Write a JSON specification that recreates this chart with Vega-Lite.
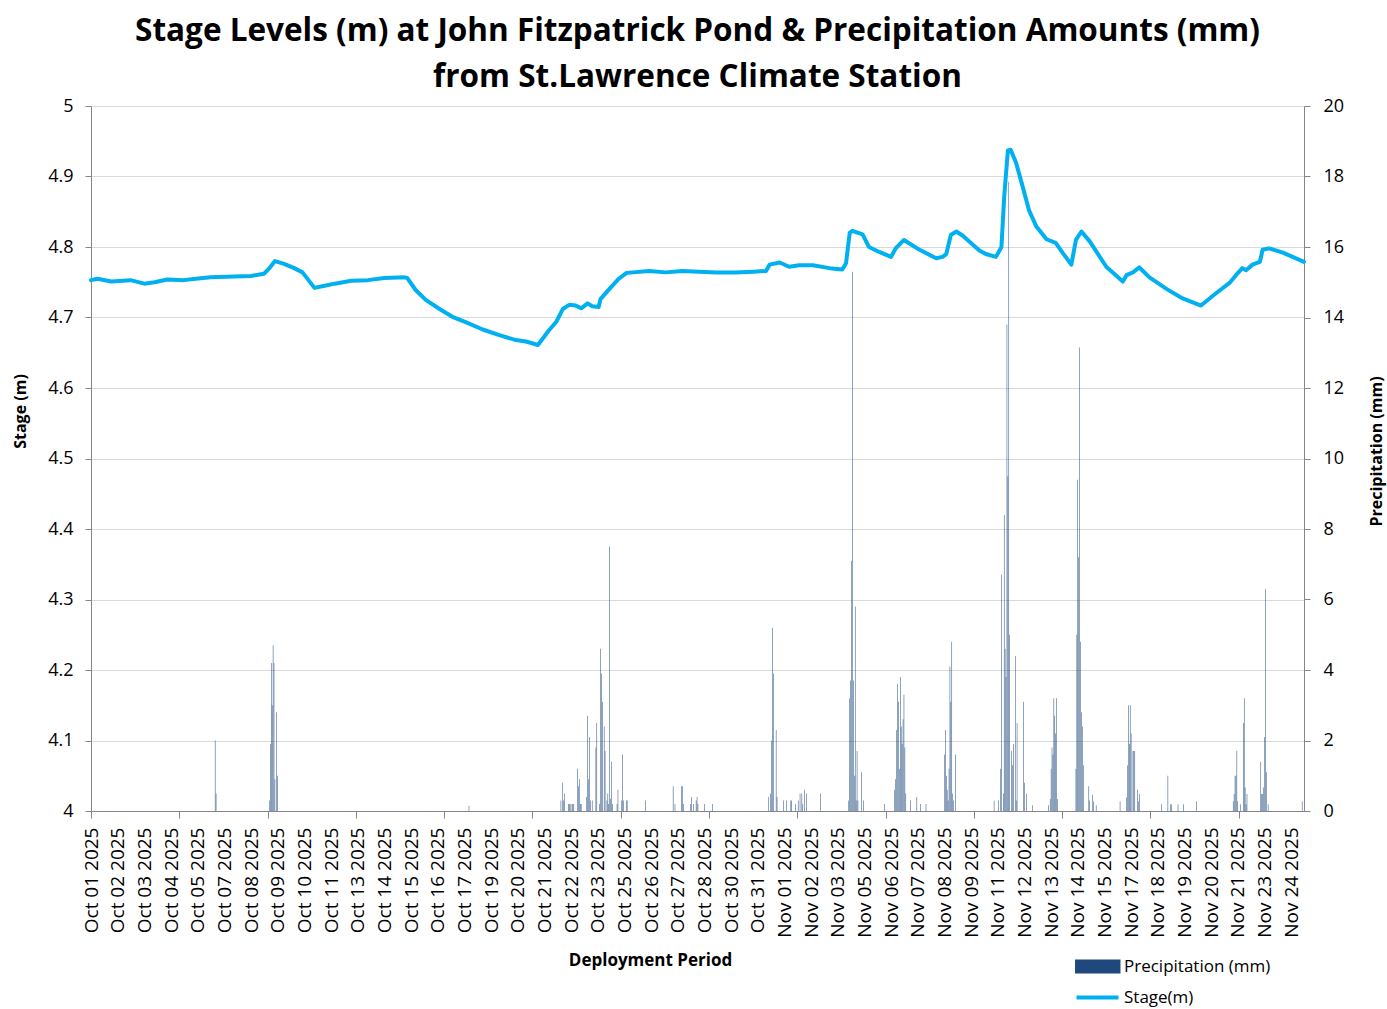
{
  "$schema": "https://vega.github.io/schema/vega-lite/v6.json",
  "width": 1213,
  "height": 705,
  "autosize": {"type": "none"},
  "padding": {"left": 91, "top": 106, "right": 83, "bottom": 198},
  "background": "white",
  "config": {"font": "Open Sans", "view": {"stroke": null}},
  "title": {
    "text": ["Stage Levels (m) at John Fitzpatrick Pond & Precipitation Amounts (mm)", "from St.Lawrence Climate Station"],
    "font": "Open Sans", "fontSize": 31.5, "fontWeight": "bold", "color": "#000000",
    "anchor": "middle", "frame": "group", "offset": 4, "lineHeight": 46
  },
  "datasets": {
    "precip": [
      {"t":"2025-10-06T15:00Z","p":2.0},{"t":"2025-10-06T16:00Z","p":0.5},
      {"t":"2025-10-09T02:00Z","p":0.3},{"t":"2025-10-09T03:00Z","p":1.9},{"t":"2025-10-09T04:00Z","p":4.2},{"t":"2025-10-09T05:00Z","p":3.0},{"t":"2025-10-09T06:00Z","p":4.7},{"t":"2025-10-09T07:00Z","p":4.2},{"t":"2025-10-09T08:00Z","p":0.9},{"t":"2025-10-09T10:00Z","p":2.8},{"t":"2025-10-09T11:00Z","p":1.0},
      {"t":"2025-10-18T03:00Z","p":0.15},
      {"t":"2025-10-22T07:00Z","p":0.3},{"t":"2025-10-22T09:00Z","p":0.8},{"t":"2025-10-22T10:00Z","p":0.3},{"t":"2025-10-22T11:00Z","p":0.5},{"t":"2025-10-22T15:00Z","p":0.2},{"t":"2025-10-22T16:00Z","p":0.2},{"t":"2025-10-22T17:00Z","p":0.2},{"t":"2025-10-22T19:00Z","p":0.2},{"t":"2025-10-22T20:00Z","p":0.2},{"t":"2025-10-22T21:00Z","p":0.2},
      {"t":"2025-10-23T01:00Z","p":1.2},{"t":"2025-10-23T02:00Z","p":0.7},{"t":"2025-10-23T03:00Z","p":0.9},{"t":"2025-10-23T04:00Z","p":0.2},{"t":"2025-10-23T05:00Z","p":0.2},{"t":"2025-10-23T11:00Z","p":0.4},{"t":"2025-10-23T12:00Z","p":2.7},{"t":"2025-10-23T13:00Z","p":0.9},{"t":"2025-10-23T14:00Z","p":2.1},{"t":"2025-10-23T15:00Z","p":0.3},{"t":"2025-10-23T17:00Z","p":0.3},{"t":"2025-10-23T21:00Z","p":1.8},{"t":"2025-10-23T22:00Z","p":2.5},
      {"t":"2025-10-24T01:00Z","p":0.2},{"t":"2025-10-24T02:00Z","p":4.6},{"t":"2025-10-24T03:00Z","p":3.9},{"t":"2025-10-24T04:00Z","p":3.1},{"t":"2025-10-24T06:00Z","p":2.4},{"t":"2025-10-24T07:00Z","p":1.7},{"t":"2025-10-24T09:00Z","p":0.3},{"t":"2025-10-24T10:00Z","p":0.5},{"t":"2025-10-24T11:00Z","p":0.2},{"t":"2025-10-24T12:00Z","p":7.5},{"t":"2025-10-24T13:00Z","p":0.35},{"t":"2025-10-24T14:00Z","p":1.4},{"t":"2025-10-24T15:00Z","p":0.2},{"t":"2025-10-24T20:00Z","p":0.2},{"t":"2025-10-24T21:00Z","p":0.6},
      {"t":"2025-10-25T01:00Z","p":0.3},{"t":"2025-10-25T02:00Z","p":1.6},{"t":"2025-10-25T03:00Z","p":0.3},{"t":"2025-10-25T06:00Z","p":0.3},{"t":"2025-10-25T07:00Z","p":0.3},
      {"t":"2025-10-26T03:00Z","p":0.3},
      {"t":"2025-10-27T09:00Z","p":0.7},{"t":"2025-10-27T11:00Z","p":0.2},{"t":"2025-10-27T18:00Z","p":0.7},{"t":"2025-10-27T19:00Z","p":0.7},{"t":"2025-10-27T20:00Z","p":0.2},
      {"t":"2025-10-28T04:00Z","p":0.2},{"t":"2025-10-28T05:00Z","p":0.4},{"t":"2025-10-28T07:00Z","p":0.2},{"t":"2025-10-28T10:00Z","p":0.3},{"t":"2025-10-28T11:00Z","p":0.4},{"t":"2025-10-28T12:00Z","p":0.2},{"t":"2025-10-28T19:00Z","p":0.2},
      {"t":"2025-10-29T04:00Z","p":0.2},
      {"t":"2025-10-31T17:00Z","p":0.4},{"t":"2025-10-31T19:00Z","p":0.5},{"t":"2025-10-31T20:00Z","p":2.0},{"t":"2025-10-31T21:00Z","p":5.2},{"t":"2025-10-31T22:00Z","p":3.9},
      {"t":"2025-11-01T01:00Z","p":2.3},{"t":"2025-11-01T02:00Z","p":0.4},{"t":"2025-11-01T09:00Z","p":0.3},{"t":"2025-11-01T12:00Z","p":0.3},{"t":"2025-11-01T17:00Z","p":0.3},{"t":"2025-11-01T18:00Z","p":0.3},{"t":"2025-11-01T22:00Z","p":0.2},
      {"t":"2025-11-02T01:00Z","p":0.3},{"t":"2025-11-02T03:00Z","p":0.5},{"t":"2025-11-02T05:00Z","p":0.5},{"t":"2025-11-02T06:00Z","p":0.2},{"t":"2025-11-02T08:00Z","p":0.6},{"t":"2025-11-02T10:00Z","p":0.5},
      {"t":"2025-11-03T01:00Z","p":0.5},
      {"t":"2025-11-04T08:00Z","p":0.3},{"t":"2025-11-04T09:00Z","p":3.2},{"t":"2025-11-04T10:00Z","p":3.7},{"t":"2025-11-04T11:00Z","p":7.1},{"t":"2025-11-04T12:00Z","p":15.3},{"t":"2025-11-04T13:00Z","p":3.7},{"t":"2025-11-04T14:00Z","p":1.0},{"t":"2025-11-04T15:00Z","p":5.8},{"t":"2025-11-04T16:00Z","p":0.3},{"t":"2025-11-04T17:00Z","p":1.7},{"t":"2025-11-04T18:00Z","p":0.3},{"t":"2025-11-04T22:00Z","p":1.1},
      {"t":"2025-11-05T00:00Z","p":0.3},{"t":"2025-11-05T23:00Z","p":0.2},
      {"t":"2025-11-06T10:00Z","p":0.6},{"t":"2025-11-06T11:00Z","p":0.9},{"t":"2025-11-06T12:00Z","p":2.3},{"t":"2025-11-06T13:00Z","p":3.6},{"t":"2025-11-06T14:00Z","p":3.1},{"t":"2025-11-06T15:00Z","p":1.2},{"t":"2025-11-06T16:00Z","p":3.8},{"t":"2025-11-06T17:00Z","p":2.4},{"t":"2025-11-06T18:00Z","p":1.9},{"t":"2025-11-06T19:00Z","p":2.6},{"t":"2025-11-06T20:00Z","p":3.3},{"t":"2025-11-06T21:00Z","p":1.8},{"t":"2025-11-06T22:00Z","p":0.5},
      {"t":"2025-11-07T03:00Z","p":0.3},{"t":"2025-11-07T10:00Z","p":0.4},{"t":"2025-11-07T14:00Z","p":0.2},{"t":"2025-11-07T20:00Z","p":0.2},
      {"t":"2025-11-08T16:00Z","p":1.6},{"t":"2025-11-08T17:00Z","p":2.3},{"t":"2025-11-08T18:00Z","p":1.0},{"t":"2025-11-08T19:00Z","p":0.6},{"t":"2025-11-08T20:00Z","p":0.3},{"t":"2025-11-08T21:00Z","p":1.2},{"t":"2025-11-08T22:00Z","p":4.1},{"t":"2025-11-08T23:00Z","p":3.1},
      {"t":"2025-11-09T00:00Z","p":4.8},{"t":"2025-11-09T01:00Z","p":0.5},{"t":"2025-11-09T02:00Z","p":0.3},{"t":"2025-11-09T04:00Z","p":1.6},
      {"t":"2025-11-10T22:00Z","p":0.3},
      {"t":"2025-11-11T03:00Z","p":0.3},{"t":"2025-11-11T05:00Z","p":1.2},{"t":"2025-11-11T06:00Z","p":6.7},{"t":"2025-11-11T08:00Z","p":0.5},{"t":"2025-11-11T09:00Z","p":8.4},{"t":"2025-11-11T10:00Z","p":4.6},{"t":"2025-11-11T11:00Z","p":3.8},{"t":"2025-11-11T12:00Z","p":13.8},{"t":"2025-11-11T13:00Z","p":9.5},{"t":"2025-11-11T14:00Z","p":17.85},{"t":"2025-11-11T15:00Z","p":5.0},{"t":"2025-11-11T17:00Z","p":1.7},{"t":"2025-11-11T18:00Z","p":1.3},{"t":"2025-11-11T19:00Z","p":1.9},{"t":"2025-11-11T21:00Z","p":4.4},{"t":"2025-11-11T22:00Z","p":0.3},{"t":"2025-11-11T23:00Z","p":2.5},
      {"t":"2025-11-12T06:00Z","p":3.1},{"t":"2025-11-12T07:00Z","p":0.8},{"t":"2025-11-12T09:00Z","p":0.5},{"t":"2025-11-12T16:00Z","p":0.16},
      {"t":"2025-11-13T09:00Z","p":0.16},{"t":"2025-11-13T11:00Z","p":0.34},{"t":"2025-11-13T12:00Z","p":1.2},{"t":"2025-11-13T13:00Z","p":1.8},{"t":"2025-11-13T14:00Z","p":1.6},{"t":"2025-11-13T15:00Z","p":3.2},{"t":"2025-11-13T16:00Z","p":2.7},{"t":"2025-11-13T17:00Z","p":2.2},{"t":"2025-11-13T18:00Z","p":3.2},{"t":"2025-11-13T19:00Z","p":0.34},
      {"t":"2025-11-14T15:00Z","p":1.2},{"t":"2025-11-14T16:00Z","p":5.0},{"t":"2025-11-14T17:00Z","p":9.4},{"t":"2025-11-14T18:00Z","p":7.2},{"t":"2025-11-14T19:00Z","p":13.15},{"t":"2025-11-14T20:00Z","p":4.8},{"t":"2025-11-14T21:00Z","p":2.8},{"t":"2025-11-14T22:00Z","p":2.4},{"t":"2025-11-14T23:00Z","p":1.3},
      {"t":"2025-11-15T05:00Z","p":0.7},{"t":"2025-11-15T06:00Z","p":0.3},{"t":"2025-11-15T09:00Z","p":0.46},{"t":"2025-11-15T10:00Z","p":0.28},{"t":"2025-11-15T13:00Z","p":0.16},
      {"t":"2025-11-16T15:00Z","p":0.28},{"t":"2025-11-16T22:00Z","p":0.38},{"t":"2025-11-16T23:00Z","p":1.3},
      {"t":"2025-11-17T00:00Z","p":3.0},{"t":"2025-11-17T01:00Z","p":1.9},{"t":"2025-11-17T02:00Z","p":3.0},{"t":"2025-11-17T03:00Z","p":2.2},{"t":"2025-11-17T05:00Z","p":1.7},{"t":"2025-11-17T06:00Z","p":1.7},{"t":"2025-11-17T07:00Z","p":1.7},{"t":"2025-11-17T10:00Z","p":0.6},{"t":"2025-11-17T11:00Z","p":0.28},{"t":"2025-11-17T12:00Z","p":0.48},
      {"t":"2025-11-18T12:00Z","p":0.19},{"t":"2025-11-18T19:00Z","p":1.0},{"t":"2025-11-18T22:00Z","p":0.19},{"t":"2025-11-18T23:00Z","p":0.19},
      {"t":"2025-11-19T06:00Z","p":0.19},{"t":"2025-11-19T12:00Z","p":0.19},
      {"t":"2025-11-20T02:00Z","p":0.28},
      {"t":"2025-11-21T18:00Z","p":0.28},{"t":"2025-11-21T19:00Z","p":0.48},{"t":"2025-11-21T20:00Z","p":1.0},{"t":"2025-11-21T21:00Z","p":1.0},{"t":"2025-11-21T22:00Z","p":1.7},{"t":"2025-11-21T23:00Z","p":0.28},
      {"t":"2025-11-22T02:00Z","p":0.19},{"t":"2025-11-22T05:00Z","p":2.5},{"t":"2025-11-22T06:00Z","p":3.2},{"t":"2025-11-22T07:00Z","p":0.67},{"t":"2025-11-22T08:00Z","p":0.19},{"t":"2025-11-22T09:00Z","p":0.48},
      {"t":"2025-11-23T00:00Z","p":1.4},{"t":"2025-11-23T01:00Z","p":0.48},{"t":"2025-11-23T02:00Z","p":0.48},{"t":"2025-11-23T03:00Z","p":0.67},{"t":"2025-11-23T04:00Z","p":2.1},{"t":"2025-11-23T05:00Z","p":6.3},{"t":"2025-11-23T06:00Z","p":1.1},{"t":"2025-11-23T08:00Z","p":0.19},
      {"t":"2025-11-24T21:00Z","p":0.28}
    ],
    "stage": [
      {"t":"2025-10-01T00:00Z","s":4.753},{"t":"2025-10-01T07:00Z","s":4.755},{"t":"2025-10-01T22:00Z","s":4.751},{"t":"2025-10-02T19:00Z","s":4.753},{"t":"2025-10-03T10:00Z","s":4.748},{"t":"2025-10-03T21:00Z","s":4.750},{"t":"2025-10-04T11:00Z","s":4.754},{"t":"2025-10-05T05:00Z","s":4.753},{"t":"2025-10-05T18:00Z","s":4.755},{"t":"2025-10-06T10:00Z","s":4.757},{"t":"2025-10-07T12:00Z","s":4.758},{"t":"2025-10-08T06:00Z","s":4.759},{"t":"2025-10-08T20:00Z","s":4.762},
      {"t":"2025-10-09T02:00Z","s":4.770},{"t":"2025-10-09T08:00Z","s":4.780},{"t":"2025-10-09T18:00Z","s":4.776},{"t":"2025-10-10T05:00Z","s":4.770},{"t":"2025-10-10T14:00Z","s":4.764},{"t":"2025-10-11T03:00Z","s":4.742},{"t":"2025-10-11T14:00Z","s":4.745},{"t":"2025-10-12T01:00Z","s":4.748},{"t":"2025-10-12T19:00Z","s":4.752},{"t":"2025-10-13T13:00Z","s":4.753},{"t":"2025-10-14T07:00Z","s":4.756},{"t":"2025-10-15T05:00Z","s":4.757},{"t":"2025-10-15T08:00Z","s":4.756},
      {"t":"2025-10-15T17:00Z","s":4.739},{"t":"2025-10-16T04:00Z","s":4.725},{"t":"2025-10-16T19:00Z","s":4.712},{"t":"2025-10-17T09:00Z","s":4.701},{"t":"2025-10-18T00:00Z","s":4.693},{"t":"2025-10-18T18:00Z","s":4.683},{"t":"2025-10-19T12:00Z","s":4.675},{"t":"2025-10-20T06:00Z","s":4.668},{"t":"2025-10-20T17:00Z","s":4.666},{"t":"2025-10-21T06:00Z","s":4.661},
      {"t":"2025-10-21T18:00Z","s":4.682},{"t":"2025-10-22T02:00Z","s":4.694},{"t":"2025-10-22T09:00Z","s":4.712},{"t":"2025-10-22T16:00Z","s":4.718},{"t":"2025-10-22T23:00Z","s":4.717},{"t":"2025-10-23T05:00Z","s":4.713},{"t":"2025-10-23T12:00Z","s":4.720},{"t":"2025-10-23T17:00Z","s":4.716},{"t":"2025-10-24T00:00Z","s":4.715},{"t":"2025-10-24T02:00Z","s":4.726},{"t":"2025-10-24T12:00Z","s":4.741},{"t":"2025-10-24T22:00Z","s":4.755},
      {"t":"2025-10-25T06:00Z","s":4.763},{"t":"2025-10-25T13:00Z","s":4.764},{"t":"2025-10-26T07:00Z","s":4.766},{"t":"2025-10-27T01:00Z","s":4.764},{"t":"2025-10-27T19:00Z","s":4.766},{"t":"2025-10-28T13:00Z","s":4.765},{"t":"2025-10-29T08:00Z","s":4.764},{"t":"2025-10-30T05:00Z","s":4.764},{"t":"2025-10-31T00:00Z","s":4.765},{"t":"2025-10-31T14:00Z","s":4.766},{"t":"2025-10-31T18:00Z","s":4.775},
      {"t":"2025-11-01T05:00Z","s":4.778},{"t":"2025-11-01T15:00Z","s":4.772},{"t":"2025-11-02T02:00Z","s":4.774},{"t":"2025-11-02T17:00Z","s":4.774},{"t":"2025-11-03T11:00Z","s":4.770},{"t":"2025-11-04T01:00Z","s":4.768},{"t":"2025-11-04T05:00Z","s":4.777},{"t":"2025-11-04T09:00Z","s":4.820},{"t":"2025-11-04T12:00Z","s":4.823},{"t":"2025-11-04T23:00Z","s":4.818},
      {"t":"2025-11-05T06:00Z","s":4.800},{"t":"2025-11-05T17:00Z","s":4.793},{"t":"2025-11-06T06:00Z","s":4.786},{"t":"2025-11-06T11:00Z","s":4.798},{"t":"2025-11-06T20:00Z","s":4.810},{"t":"2025-11-07T13:00Z","s":4.796},{"t":"2025-11-08T07:00Z","s":4.784},{"t":"2025-11-08T14:00Z","s":4.786},{"t":"2025-11-08T18:00Z","s":4.790},{"t":"2025-11-08T23:00Z","s":4.817},
      {"t":"2025-11-09T05:00Z","s":4.822},{"t":"2025-11-09T12:00Z","s":4.816},{"t":"2025-11-10T06:00Z","s":4.795},{"t":"2025-11-10T13:00Z","s":4.790},{"t":"2025-11-11T00:00Z","s":4.786},{"t":"2025-11-11T06:00Z","s":4.800},{"t":"2025-11-11T09:00Z","s":4.871},{"t":"2025-11-11T13:00Z","s":4.937},{"t":"2025-11-11T16:00Z","s":4.938},{"t":"2025-11-11T22:00Z","s":4.919},
      {"t":"2025-11-12T05:00Z","s":4.886},{"t":"2025-11-12T12:00Z","s":4.852},{"t":"2025-11-12T20:00Z","s":4.829},{"t":"2025-11-13T07:00Z","s":4.811},{"t":"2025-11-13T17:00Z","s":4.806},{"t":"2025-11-14T01:00Z","s":4.791},{"t":"2025-11-14T10:00Z","s":4.775},{"t":"2025-11-14T15:00Z","s":4.810},{"t":"2025-11-14T21:00Z","s":4.822},{"t":"2025-11-15T06:00Z","s":4.808},
      {"t":"2025-11-16T00:00Z","s":4.772},{"t":"2025-11-16T18:00Z","s":4.751},{"t":"2025-11-16T22:00Z","s":4.760},{"t":"2025-11-17T05:00Z","s":4.764},{"t":"2025-11-17T12:00Z","s":4.771},{"t":"2025-11-17T23:00Z","s":4.757},{"t":"2025-11-18T17:00Z","s":4.741},{"t":"2025-11-19T11:00Z","s":4.727},{"t":"2025-11-20T07:00Z","s":4.717},{"t":"2025-11-20T23:00Z","s":4.734},
      {"t":"2025-11-21T14:00Z","s":4.749},{"t":"2025-11-21T23:00Z","s":4.763},{"t":"2025-11-22T04:00Z","s":4.770},{"t":"2025-11-22T08:00Z","s":4.767},{"t":"2025-11-22T15:00Z","s":4.775},{"t":"2025-11-22T23:00Z","s":4.779},{"t":"2025-11-23T02:00Z","s":4.796},{"t":"2025-11-23T09:00Z","s":4.798},{"t":"2025-11-24T00:00Z","s":4.792},{"t":"2025-11-24T23:00Z","s":4.779}
    ]
  },
  "layer": [
    {
      "data": {"name": "precip"},
      "mark": {"type": "bar", "width": 0.5},
      "encoding": {
        "x": {
          "field": "t", "type": "temporal",
          "scale": {"type": "utc", "domain": [1759276800000, 1764025200000], "padding": 0},
          "axis": {
            "orient": "bottom", "title": null, "labels": false, "grid": false,
            "values": [1759276800000,1759622400000,1759968000000,1760313600000,1760659200000,1761004800000,1761350400000,1761696000000,1762041600000,1762387200000,1762732800000,1763078400000,1763424000000,1763769600000],
            "ticks": true, "tickSize": 7, "tickColor": "#868686", "domain": true, "domainColor": "#868686"
          }
        },
        "y": {
          "field": "p", "type": "quantitative",
          "scale": {"domain": [0, 20], "nice": false},
          "axis": {
            "orient": "right", "values": [0,2,4,6,8,10,12,14,16,18,20], "grid": false,
            "labelFontSize": 18, "labelColor": "#000000", "labelPadding": 13,
            "tickSize": 6, "tickColor": "#868686", "domainColor": "#868686",
            "title": "Precipitation (mm)", "titleFontSize": 16, "titleFontWeight": "bold", "titleColor": "#000000",
            "titleAngle": -90, "titleX": 72, "titleY": 345, "titleAlign": "center", "titleBaseline": "middle"
          }
        },
        "color": {
          "datum": "Precipitation (mm)",
          "scale": {"domain": ["Precipitation (mm)", "Stage(m)"], "range": ["#1F497D", "#00B0F0"]},
          "legend": {
            "orient": "none", "legendX": 994, "legendY": 848, "title": null, "direction": "vertical",
            "labelFontSize": 17, "labelColor": "#000000", "labelOffset": 14,
            "symbolSize": 441, "symbolStrokeWidth": 4, "rowPadding": 5,
            "encode": {
              "symbols": {
                "update": {
                  "shape": {"signal": "datum.value === 'Stage(m)' ? 'M-2,0H2' : 'M-1.95,-0.48H2V0.48H-1.95Z'"},
                  "fill": {"signal": "datum.value === 'Stage(m)' ? 'transparent' : '#1F497D'"},
                  "stroke": {"signal": "datum.value === 'Stage(m)' ? '#00B0F0' : 'transparent'"},
                  "strokeWidth": {"value": 4},
                  "opacity": {"value": 1}
                }
              }
            }
          }
        }
      }
    },
    {
      "data": {"name": "stage"},
      "mark": {"type": "line", "strokeWidth": 4, "strokeJoin": "round", "strokeCap": "round"},
      "encoding": {
        "x": {
          "field": "t", "type": "temporal",
          "axis": {
            "orient": "bottom", "grid": false, "ticks": false, "tickSize": 0, "domain": false,
            "values": [1759276800000,1759381200000,1759485600000,1759590000000,1759694400000,1759798800000,1759903200000,1760007600000,1760112000000,1760216400000,1760320800000,1760425200000,1760529600000,1760634000000,1760738400000,1760842800000,1760947200000,1761051600000,1761156000000,1761260400000,1761364800000,1761469200000,1761573600000,1761678000000,1761782400000,1761886800000,1761991200000,1762095600000,1762200000000,1762304400000,1762408800000,1762513200000,1762617600000,1762722000000,1762826400000,1762930800000,1763035200000,1763139600000,1763244000000,1763348400000,1763452800000,1763557200000,1763661600000,1763766000000,1763870400000,1763974800000],
            "labelExpr": "utcFormat(datum.value, '%b %d %Y')",
            "labelAngle": -90, "labelFontSize": 19, "labelColor": "#000000", "labelPadding": 16,
            "labelOverlap": false, "labelFlush": false, "labelBound": false,
            "title": "Deployment Period", "titleFontSize": 17, "titleFontWeight": "bold", "titleColor": "#000000",
            "titleX": 559, "titleY": 149, "titleAlign": "center", "titleBaseline": "middle"
          }
        },
        "y": {
          "field": "s", "type": "quantitative",
          "scale": {"domain": [4, 5], "nice": false, "zero": false},
          "axis": {
            "orient": "left", "values": [4,4.1,4.2,4.3,4.4,4.5,4.6,4.7,4.8,4.9,5], "format": ".1~f",
            "grid": true, "gridColor": "#D9D9D9", "gridWidth": 1,
            "labelFontSize": 18, "labelColor": "#000000", "labelPadding": 12,
            "tickSize": 6, "tickColor": "#868686", "domainColor": "#868686",
            "title": "Stage (m)", "titleFontSize": 16, "titleFontWeight": "bold", "titleColor": "#000000",
            "titleAngle": -90, "titleX": -71, "titleY": 305, "titleAlign": "center", "titleBaseline": "middle"
          }
        },
        "color": {"datum": "Stage(m)"}
      }
    }
  ],
  "resolve": {"scale": {"y": "independent"}, "axis": {"y": "independent", "x": "independent"}}
}
